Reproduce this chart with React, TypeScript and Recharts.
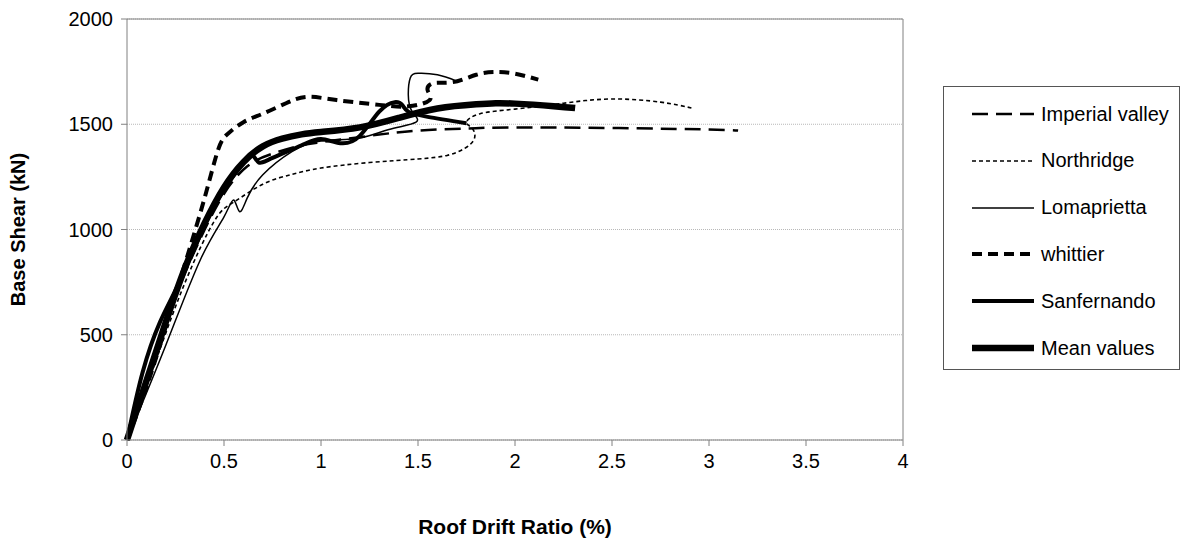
import React from "react"
import { LineChart, Line, XAxis, YAxis, CartesianGrid, ReferenceLine } from "recharts"

// Pushover curves: roof drift ratio (%) vs base shear (kN), [drift, shear]
const imperialValley: [number, number][] = [
  [0, 0], [0.12, 330], [0.25, 680], [0.38, 960], [0.5, 1170], [0.62, 1300], [0.75, 1360],
  [0.9, 1400], [1.0, 1415], [1.25, 1445], [1.5, 1470], [1.75, 1480], [2.0, 1485],
  [2.5, 1482], [3.0, 1475], [3.15, 1470],
]
const northridge: [number, number][] = [
  [0, 0], [0.15, 380], [0.3, 750], [0.45, 1040], [0.55, 1130], [0.7, 1215], [0.85, 1262],
  [1.0, 1292], [1.25, 1318], [1.5, 1335], [1.65, 1352], [1.74, 1385], [1.79, 1430],
  [1.78, 1480], [1.75, 1510], [1.82, 1550], [2.0, 1572], [2.25, 1600], [2.5, 1620],
  [2.75, 1605], [2.91, 1577],
]
const lomaprietta: [number, number][] = [
  [0, 0], [0.2, 450], [0.38, 860], [0.5, 1060], [0.55, 1140], [0.58, 1085], [0.62, 1150],
  [0.7, 1260], [0.85, 1370], [1.0, 1420], [1.2, 1435], [1.35, 1475], [1.49, 1510],
  [1.47, 1560], [1.45, 1640], [1.46, 1720], [1.5, 1742], [1.6, 1735], [1.7, 1705],
]
const whittier: [number, number][] = [
  [0, 0], [0.1, 250], [0.2, 540], [0.3, 840], [0.4, 1150], [0.47, 1380], [0.52, 1455],
  [0.6, 1510], [0.7, 1550], [0.82, 1600], [0.93, 1630], [1.08, 1615], [1.3, 1592],
  [1.45, 1585], [1.56, 1615], [1.55, 1660], [1.58, 1695], [1.68, 1700], [1.8, 1735],
  [1.9, 1748], [2.0, 1740], [2.12, 1712],
]
const sanfernando: [number, number][] = [
  [0, 0], [0.08, 320], [0.17, 560], [0.27, 750], [0.4, 1020], [0.5, 1190], [0.6, 1320],
  [0.65, 1350], [0.68, 1318], [0.75, 1340], [0.9, 1400], [1.0, 1430], [1.1, 1410],
  [1.2, 1445], [1.3, 1560], [1.38, 1605], [1.42, 1590], [1.45, 1560], [1.55, 1535],
  [1.75, 1505],
]
const meanValues: [number, number][] = [
  [0, 0], [0.1, 280], [0.2, 560], [0.3, 820], [0.4, 1030], [0.5, 1200], [0.6, 1320],
  [0.7, 1395], [0.8, 1432], [0.9, 1452], [1.0, 1463], [1.2, 1485], [1.4, 1530],
  [1.6, 1575], [1.8, 1595], [1.9, 1600], [2.0, 1598], [2.2, 1586], [2.31, 1577],
]

const xTicks = [0, 0.5, 1, 1.5, 2, 2.5, 3, 3.5, 4]
const yTicks = [0, 500, 1000, 1500, 2000]

const toRows = (pts: [number, number][]) => pts.map(([x, y]) => ({ x, y }))

const series = [
  { name: "Imperial valley", pts: imperialValley, width: 2.5, dash: "16 8" },
  { name: "Northridge", pts: northridge, width: 1.6, dash: "4 3" },
  { name: "Lomaprietta", pts: lomaprietta, width: 1.5, dash: undefined },
  { name: "whittier", pts: whittier, width: 4, dash: "10 6" },
  { name: "Sanfernando", pts: sanfernando, width: 4, dash: undefined },
  { name: "Mean values", pts: meanValues, width: 6.5, dash: undefined },
]

const font = "'Liberation Sans', Arial, sans-serif"

function LegendBox() {
  return (
    <div
      style={{
        position: "absolute",
        left: 943,
        top: 86,
        width: 237,
        height: 284,
        border: "1px solid #555",
        background: "#fff",
        boxSizing: "border-box",
        fontFamily: font,
        fontSize: 20,
        color: "#000",
      }}
    >
      {series.map((s, i) => (
        <div
          key={s.name}
          style={{ position: "absolute", left: 26, top: 27 + i * 46.8 - 13, height: 26, display: "flex", alignItems: "center", whiteSpace: "nowrap" }}
        >
          <svg width={66} height={10}>
            <line x1={2} y1={5} x2={64} y2={5} stroke="#000" strokeWidth={s.width} strokeDasharray={s.dash} />
          </svg>
          <span style={{ marginLeft: 5 }}>{s.name}</span>
        </div>
      ))}
    </div>
  )
}

export default function App() {
  return (
    <div style={{ position: "absolute", left: 0, top: 0, width: 1190, height: 544, background: "#fff" }}>
      <LineChart width={1190} height={544} margin={{ top: 19, right: 287, bottom: 0, left: 0 }}>
        <CartesianGrid horizontal vertical={false} stroke="#b8b8b8" strokeDasharray="1 1" />
        <XAxis
          type="number"
          dataKey="x"
          domain={[0, 4]}
          ticks={xTicks}
          stroke="#808080"
          tickSize={6}
          height={104}
          tick={{ fill: "#000", fontSize: 20, fontFamily: font }}
          tickMargin={8}
          label={{ value: "Roof Drift Ratio (%)", position: "insideBottom", offset: 10, fill: "#000", fontSize: 21, fontWeight: "bold", fontFamily: font }}
        />
        <YAxis
          type="number"
          dataKey="y"
          domain={[0, 2000]}
          ticks={yTicks}
          stroke="#808080"
          width={127}
          tickSize={6}
          tickMargin={8}
          tick={{ fill: "#000", fontSize: 20, fontFamily: font }}
          label={{ value: "Base Shear (kN)", angle: -90, position: "insideLeft", offset: 18, fill: "#000", fontSize: 20, fontWeight: "bold", fontFamily: font, style: { textAnchor: "middle" } }}
        />
        <ReferenceLine y={2000} stroke="#808080" ifOverflow="visible" />
        <ReferenceLine x={4} stroke="#808080" ifOverflow="visible" />
        {series.map((s) => (
          <Line
            key={s.name}
            name={s.name}
            data={toRows(s.pts)}
            dataKey="y"
            type="natural"
            stroke="#000"
            strokeWidth={s.width}
            strokeDasharray={s.dash}
            dot={false}
            activeDot={false}
            isAnimationActive={false}
          />
        ))}
      </LineChart>
      <LegendBox />
    </div>
  )
}
